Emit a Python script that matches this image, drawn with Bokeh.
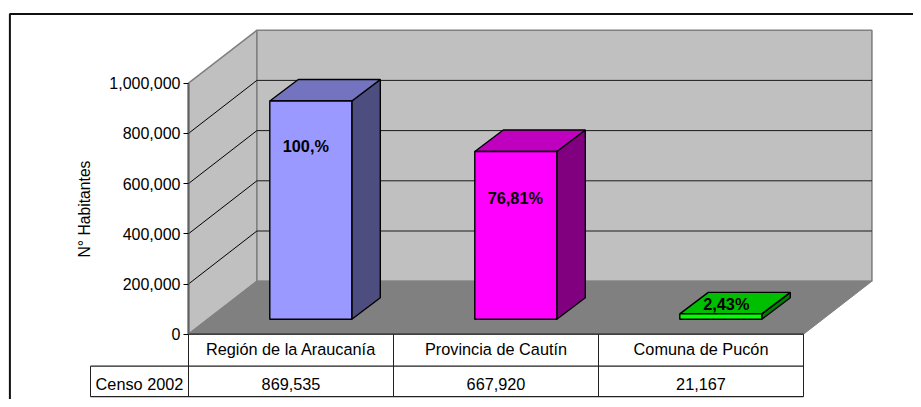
from bokeh.plotting import figure
from bokeh.embed import file_html
from bokeh.resources import INLINE
from bokeh.core.properties import value
from bokeh.models import Range1d, FixedTicker, NumeralTickFormatter

categories = ["Región de la Araucanía", "Provincia de Cautín", "Comuna de Pucón"]
series_name = "Censo 2002"
values = [869535, 667920, 21167]
table_labels = ["869,535", "667,920", "21,167"]
bar_labels = ["100,%", "76,81%", "2,43%"]
front_colors = ["#9999FF", "#FF00FF", "#00FF00"]
top_colors = ["#7373BF", "#BF00BF", "#00BF00"]
side_colors = ["#4D4D80", "#800080", "#008000"]
y_ticks = [0, 200000, 400000, 600000, 800000, 1000000]
y_title = "N° Habitantes"

# layout: picture pixels -> data
W, H = 913, 399
PAGE_X0, PAGE_Y0 = 0, 0
AX_X, ZERO_Y, TOP_Y = 188.0, 333.7, 82.7
CAT_W = 205.0
UX = 1.0 / CAT_W
UY = 1e6 / (ZERO_Y - TOP_Y)
def X(px): return (px - AX_X) * UX
def Y(py): return (ZERO_Y - py) * UY

WALL_DX, WALL_DY = 68.4 * UX, 53.0 * UY
BAR_DX, BAR_DY = 28.5 * UX, 21.5 * UY
BAR_OFF_X, BAR_OFF_Y = 19.8 * UX, 15.0 * UY
BAR_HW = 41.0 * UX
n = len(categories)

p = figure(width=W, height=H, output_backend="svg", toolbar_location=None,
           x_axis_type=None,
           x_range=Range1d(X(PAGE_X0), X(PAGE_X0 + W)),
           y_range=Range1d(Y(PAGE_Y0 + H), Y(PAGE_Y0)),
           min_border_left=0, min_border_right=0,
           min_border_top=0, min_border_bottom=0)
p.outline_line_color = None
p.grid.visible = False
p.background_fill_color = "white"

FONT = value("Liberation Sans")
FS = "16px"
TABLE_FS = "16.3px"
ymax = y_ticks[-1]

# walls and floor
EDGE = "#808080"
p.patch([0, WALL_DX, WALL_DX, 0], [0, WALL_DY, ymax + WALL_DY, ymax],
        fill_color="#C0C0C0", line_color=EDGE, line_width=1.6)
p.patch([WALL_DX, WALL_DX + n, WALL_DX + n, WALL_DX],
        [WALL_DY, WALL_DY, ymax + WALL_DY, ymax + WALL_DY],
        fill_color="#C0C0C0", line_color=EDGE, line_width=1.6)
p.patch([0, WALL_DX, WALL_DX + n, n], [0, WALL_DY, WALL_DY, 0],
        fill_color="#808080", line_color=EDGE, line_width=1)

# gridlines
grid = [t for t in y_ticks if 0 < t < ymax]
p.segment([0] * len(grid), grid, [WALL_DX] * len(grid), [t + WALL_DY for t in grid],
          line_color="#000000", line_width=1)
p.segment([WALL_DX] * len(grid), [t + WALL_DY for t in grid],
          [WALL_DX + n] * len(grid), [t + WALL_DY for t in grid],
          line_color="#1a1a1a", line_width=1)

# bars
for i, v in enumerate(values):
    cx = i + 0.5 + BAR_OFF_X
    l, r = cx - BAR_HW, cx + BAR_HW
    b, t = BAR_OFF_Y, v + BAR_OFF_Y
    p.patch([r, r + BAR_DX, r + BAR_DX, r], [b, b + BAR_DY, t + BAR_DY, t],
            fill_color=side_colors[i], line_color="#000000", line_width=1.4)
    p.patch([l, l + BAR_DX, r + BAR_DX, r], [t, t + BAR_DY, t + BAR_DY, t],
            fill_color=top_colors[i], line_color="#000000", line_width=1.4)
    p.quad(left=[l], right=[r], bottom=[b], top=[t],
           fill_color=front_colors[i], line_color="#000000", line_width=1.4)

# data labels (offsets from the bar's front face, in px)
LBL_DX = [-5.0, -0.5, 5.5]
LBL_Y = [45.5, 46.5, -9.5]
lx = [i + 0.5 + BAR_OFF_X + LBL_DX[i] * UX for i in range(n)]
ly = [values[i] + BAR_OFF_Y - LBL_Y[i] * UY for i in range(n)]
p.text(lx, ly, text=bar_labels, text_font=FONT, text_font_size="16.3px", text_font_style="bold",
       text_align="center", text_baseline="middle", text_color="#000000")

# y axis, fixed at the front edge of the side wall
ax = p.yaxis[0]
ax.fixed_location = 0
ax.ticker = FixedTicker(ticks=y_ticks)
ax.formatter = NumeralTickFormatter(format="0,0")
ax.bounds = (0, ymax)
ax.axis_line_color = "#606060"
ax.axis_line_width = 2
ax.major_tick_line_color = "#000000"
ax.major_tick_out = 5
ax.major_tick_in = 0
ax.minor_tick_line_color = None
ax.major_label_standoff = 3
ax.major_label_text_font = "Liberation Sans"
ax.major_label_text_font_size = FS
ax.major_label_text_color = "#000000"
ax.axis_label = y_title
ax.axis_label_text_font = "Liberation Sans"
ax.axis_label_text_font_size = "15.7px"
ax.axis_label_text_font_style = "normal"
ax.axis_label_text_color = "#000000"
ax.axis_label_standoff = 13

# data table below the floor
ROW1, ROW2 = Y(365.7), Y(396.2)
CELL_L = X(90.0)
seps = [float(i) for i in range(n + 1)]
p.segment([0, CELL_L, CELL_L], [0, ROW1, ROW2], [n, n, n], [0, ROW1, ROW2],
          line_color="#202020", line_width=1.3)
p.segment(seps, [0] * (n + 1), seps, [ROW2] * (n + 1), line_color="#202020", line_width=1)
p.segment([CELL_L], [ROW1], [CELL_L], [ROW2], line_color="#202020", line_width=1)
cx = [i + 0.5 for i in range(n)]
p.text(cx, [Y(348.7)] * n, text=categories, text_font=FONT, text_font_size=TABLE_FS,
       text_align="center", text_baseline="middle", text_color="#000000")
p.text(cx, [Y(383.0)] * n, text=table_labels, text_font=FONT, text_font_size=TABLE_FS,
       text_align="center", text_baseline="middle", text_color="#000000")
p.text([CELL_L / 2], [Y(383.0)], text=[series_name], text_font=FONT, text_font_size=TABLE_FS,
       text_align="center", text_baseline="middle", text_color="#000000")

# chart-area border (left and top only are in view)
BX, BY = X(9.4), Y(13.4)
p.line([BX, BX, X(PAGE_X0 + W + 5)], [Y(PAGE_Y0 + H + 5), BY, BY],
       line_color="#101010", line_width=2)

open("out.html", "w").write(file_html(p, INLINE))
